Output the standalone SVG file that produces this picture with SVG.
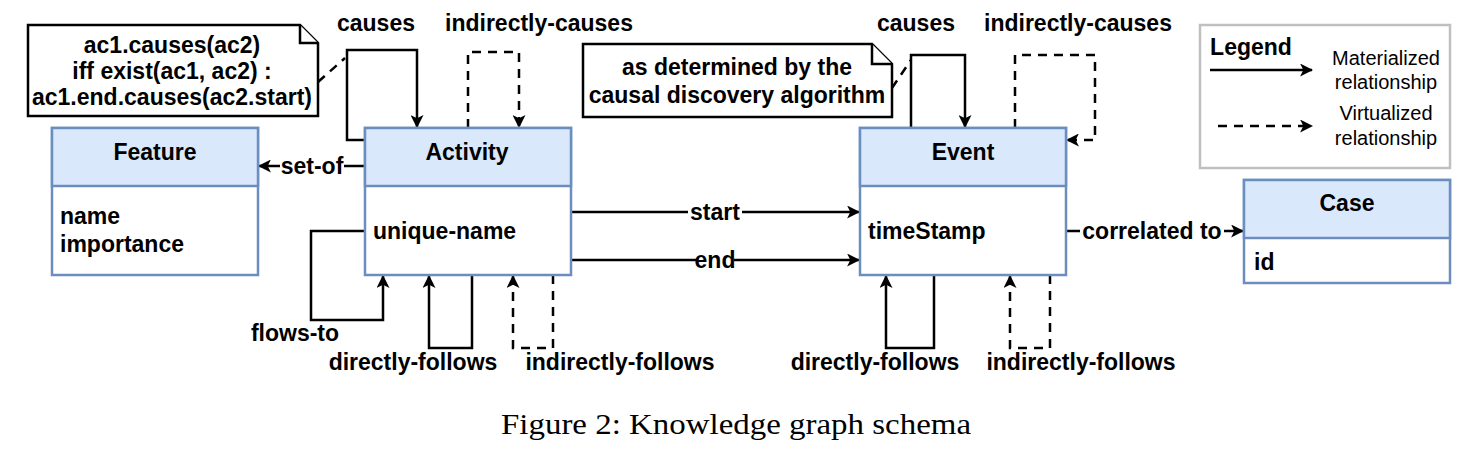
<svg xmlns="http://www.w3.org/2000/svg" width="1470" height="460" viewBox="0 0 1470 460">
<style>
.hdr{fill:#dae8fc;stroke:#6c8ebf;stroke-width:2.5}
.body{fill:#ffffff;stroke:#6c8ebf;stroke-width:2.5}
.t{font-family:"Liberation Sans",Arial,sans-serif;font-weight:bold;font-size:23px;fill:#000}
.lbl{font-family:"Liberation Sans",Arial,sans-serif;font-weight:bold;font-size:23px;fill:#000}
.lg{font-family:"Liberation Sans",Arial,sans-serif;font-size:20px;fill:#000}
.c{fill:none;stroke:#000;stroke-width:2.5}
.d{fill:none;stroke:#000;stroke-width:2.5;stroke-dasharray:9 7}
.note{fill:#fff;stroke:#000;stroke-width:2.5}
.bg{fill:#fff}
</style>
<defs>
<marker id="ah" viewBox="0 0 12 12" refX="11" refY="6" markerWidth="13" markerHeight="13" markerUnits="userSpaceOnUse" orient="auto">
<path d="M0,0 L12,6 L0,12 L3,6 Z" fill="#000"/>
</marker>
</defs>
<rect x="0" y="0" width="1470" height="460" fill="#fff"/>

<g id="connectors">
<path class="c" d="M365,140 H347 V50 H417 V127" marker-end="url(#ah)"/>
<path class="d" d="M468,128 V52 H519 V127" marker-end="url(#ah)"/>
<path class="c" d="M365,166 H259" marker-end="url(#ah)"/>
<path class="c" d="M571,212 H859" marker-end="url(#ah)"/>
<path class="c" d="M571,260 H859" marker-end="url(#ah)"/>
<path class="c" d="M365,231 H311 V320 H383 V276" marker-end="url(#ah)"/>
<path class="c" d="M472,275 V348 H429 V276" marker-end="url(#ah)"/>
<path class="d" d="M553,275 V348 H513 V276" marker-end="url(#ah)"/>
<path class="c" d="M911,128 V55 H965 V127" marker-end="url(#ah)"/>
<path class="d" d="M1015,128 V55 H1095 V140 H1067" marker-end="url(#ah)"/>
<path class="c" d="M934,275 V348 H886 V276" marker-end="url(#ah)"/>
<path class="d" d="M1050,275 V348 H1010 V276" marker-end="url(#ah)"/>
<path class="c" d="M1066,231 H1243" marker-end="url(#ah)"/>
<path class="d" d="M318,82 L345,58" stroke-dasharray="6 6"/>
<path class="d" d="M892,88 L911,60" stroke-dasharray="6 6"/>
<rect class="bg" x="280" y="153" width="64" height="26"/>
<text class="lbl" x="312" y="174" text-anchor="middle">set-of</text>
<rect class="bg" x="688" y="199" width="54" height="26"/>
<text class="lbl" x="715" y="220" text-anchor="middle">start</text>
<rect class="bg" x="696" y="247" width="38" height="26"/>
<text class="lbl" x="715" y="268" text-anchor="middle">end</text>
<rect class="bg" x="1080" y="218" width="144" height="26"/>
<text class="lbl" x="1152" y="239" text-anchor="middle">correlated to</text>
<text class="lbl" x="376" y="31" text-anchor="middle">causes</text>
<text class="lbl" x="539" y="31" text-anchor="middle">indirectly-causes</text>
<text class="lbl" x="916" y="31" text-anchor="middle">causes</text>
<text class="lbl" x="1078" y="31" text-anchor="middle">indirectly-causes</text>
<text class="lbl" x="295" y="341" text-anchor="middle">flows-to</text>
<text class="lbl" x="413" y="370" text-anchor="middle">directly-follows</text>
<text class="lbl" x="620" y="370" text-anchor="middle">indirectly-follows</text>
<text class="lbl" x="875" y="370" text-anchor="middle">directly-follows</text>
<text class="lbl" x="1081" y="370" text-anchor="middle">indirectly-follows</text>
</g>

<g id="note1">
<path class="note" d="M28,25 H300 L318,43 V116 H28 Z"/>
<path class="note" d="M300,25 V43 H318" fill="none"/>
<text class="lbl" x="172" y="53" text-anchor="middle">ac1.causes(ac2)</text>
<text class="lbl" x="172" y="79" text-anchor="middle">iff exist(ac1, ac2) :</text>
<text class="lbl" x="172" y="105" text-anchor="middle">ac1.end.causes(ac2.start)</text>
</g>

<g id="note2">
<path class="note" d="M583,44 H872 L892,64 V117 H583 Z"/>
<path class="note" d="M872,44 V64 H892" fill="none"/>
<text class="lbl" x="737" y="75" text-anchor="middle">as determined by the</text>
<text class="lbl" x="737" y="103" text-anchor="middle">causal discovery algorithm</text>
</g>

<g id="feature">
<rect class="body" x="52" y="128" width="206" height="147"/>
<rect class="hdr" x="52" y="128" width="206" height="58"/>
<text class="t" x="155" y="160" text-anchor="middle">Feature</text>
<text class="t" x="60" y="224">name</text>
<text class="t" x="60" y="252">importance</text>
</g>

<g id="activity">
<rect class="body" x="365" y="128" width="206" height="147"/>
<rect class="hdr" x="365" y="128" width="206" height="58"/>
<text class="t" x="467" y="160" text-anchor="middle">Activity</text>
<text class="t" x="373" y="239">unique-name</text>
</g>

<g id="event">
<rect class="body" x="860" y="128" width="206" height="147"/>
<rect class="hdr" x="860" y="128" width="206" height="58"/>
<text class="t" x="963" y="160" text-anchor="middle">Event</text>
<text class="t" x="868" y="239">timeStamp</text>
</g>

<g id="case">
<rect class="body" x="1244" y="180" width="206" height="103"/>
<rect class="hdr" x="1244" y="180" width="206" height="58"/>
<text class="t" x="1347" y="211" text-anchor="middle">Case</text>
<text class="t" x="1254" y="270">id</text>
</g>

<g id="legend">
<rect x="1200" y="25" width="250" height="143" fill="#fff" stroke="#c0c0c0" stroke-width="2.5"/>
<text class="t" x="1251" y="55" text-anchor="middle">Legend</text>
<path class="c" d="M1210,70 H1312" marker-end="url(#ah)"/>
<path class="d" d="M1218,126 H1312" stroke-dasharray="8 7" marker-end="url(#ah)"/>
<text class="lg" x="1386" y="65" text-anchor="middle">Materialized</text>
<text class="lg" x="1386" y="89" text-anchor="middle">relationship</text>
<text class="lg" x="1386" y="120" text-anchor="middle">Virtualized</text>
<text class="lg" x="1386" y="145" text-anchor="middle">relationship</text>
</g>

<text x="736" y="434" text-anchor="middle" font-family="Liberation Serif,'Times New Roman',serif" font-size="29" textLength="470" lengthAdjust="spacingAndGlyphs" fill="#000">Figure 2: Knowledge graph schema</text>
</svg>
